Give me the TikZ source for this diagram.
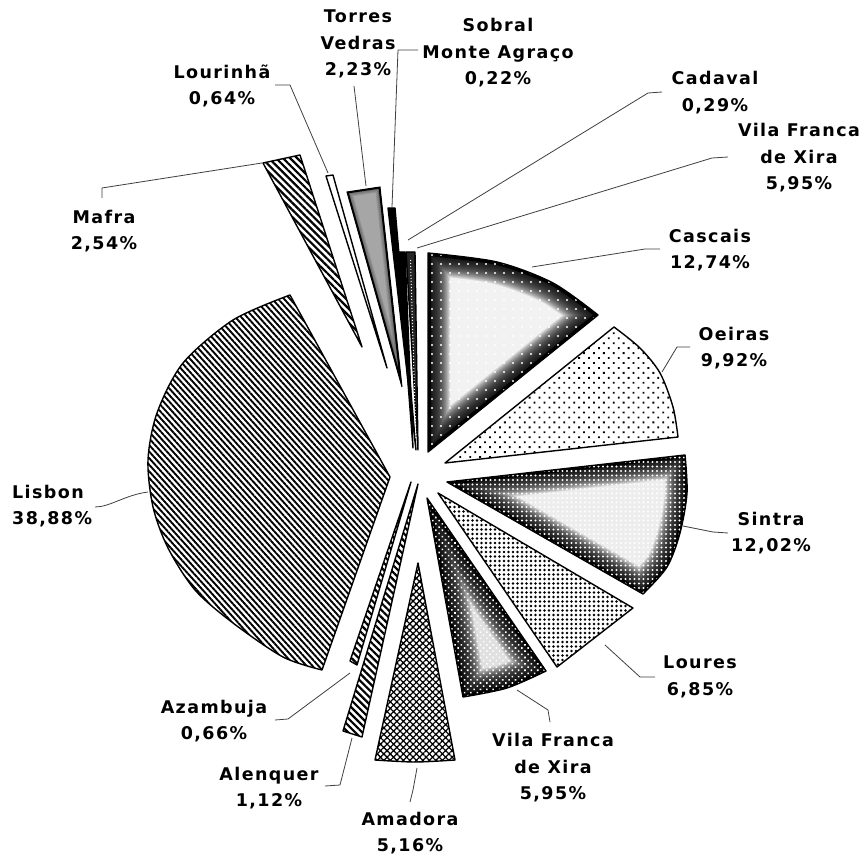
\documentclass[tikz,border=0pt]{standalone}
\usepackage{fontspec}
\newfontfamily\lblfont{DejaVu Sans Bold}[LetterSpace=8]
\usetikzlibrary{patterns.meta}
\newcommand\vignette[4]{%
  \begin{scope}
    \clip #1;
    \fill[#2] #1;
    \foreach \w in {#3} {\draw[line width=\w pt, black, opacity=0.1, line join=miter] #1;}
    \draw[line width=#4pt, black] #1;
  \end{scope}}
\begin{document}
\begin{tikzpicture}[x=1pt,y=-1pt,
  lbl/.style={font=\fontsize{17.5}{26.5}\selectfont\lblfont, align=center, inner sep=0pt},
  leader/.style={draw=black!75, line width=0.8pt},
  outl/.style={draw=black, line width=1.4pt, line join=round},
]
\useasboundingbox (0,0) rectangle (868,858);
\fill[white] (0,0) rectangle (868,858);

% ---- slice paths
\def\PCascais{(428,452) -- plot[smooth] coordinates {(428,253) (497,262) (553,283) (598,315)} -- cycle}
\def\POeiras{(445,463) -- plot[smooth] coordinates {(614,327) (640,348) (660,373) (673,407) (678,437)} -- cycle}
\def\PSintra{(447,482) -- plot[smooth] coordinates {(685,455) (687,493) (680,533) (667,567) (643,594)} -- cycle}
\def\PLoures{(438,493) -- (633,608) -- (557,667) -- cycle}
\def\PVfxB{(427,498) -- (546,671) -- plot[smooth] coordinates {(546,671) (507,688) (463,697)} -- cycle}
\def\PAmadora{(418,563) -- plot[smooth] coordinates {(455,760) (415,762) (375,760)} -- cycle}
\def\PAlenquer{(418,484) -- (362,737) -- (343,731) -- cycle}
\def\PAzambuja{(411,482) -- (357,665) -- (350,661) -- cycle}
\def\PLisbon{(390,477) -- plot[smooth] coordinates {(290,295) (233,320) (183,363) (157,413) (148,460) (153,507) (168,548) (195,590) (233,623) (283,657) (322,670)} -- cycle}
\def\PMafra{(362,347) -- (263,163) -- (300,155) -- cycle}
\def\PLourinha{(387,368) -- (326,176) -- (333,175) -- cycle}
\def\PTorres{(402,387) -- (347,192) -- (380,187) -- cycle}
\def\PSobral{(416,450) -- (388,208) -- (395,208) -- cycle}
\def\PCadaval{(413,448) -- (398,252) -- (405,252) -- cycle}
\def\PVfxT{(418,450) -- (406,252) -- (415,252) -- cycle}

% ---- slices
\vignette{\PCascais}{black!5}{8,10,...,44}{6}
\fill[pattern={Dots[distance=9pt,radius=1.1pt]}, pattern color=white] \PCascais;
\draw[outl] \PCascais;

\fill[white] \POeiras;
\fill[pattern={Dots[distance=7pt,angle=45,radius=1.3pt]}, pattern color=black] \POeiras;
\draw[outl] \POeiras;

\vignette{\PSintra}{black!7}{8,10,...,44}{6}
\fill[pattern={Dots[distance=4.5pt,radius=1.1pt]}, pattern color=white] \PSintra;
\draw[outl] \PSintra;

\fill[white] \PLoures;
\fill[pattern={Dots[distance=4.5pt,radius=1.45pt]}, pattern color=black] \PLoures;
\draw[outl] \PLoures;

\vignette{\PVfxB}{black!12}{8,10,...,48}{6}
\fill[pattern={Dots[distance=4.5pt,angle=45,radius=1.1pt]}, pattern color=white] \PVfxB;
\draw[outl] \PVfxB;

\fill[white] \PAmadora;
\fill[pattern={Hatch[angle=45,distance=4.6pt,line width=1.3pt]}, pattern color=black] \PAmadora;
\draw[outl] \PAmadora;

\fill[white] \PAlenquer;
\fill[pattern={Lines[angle=-45,distance=5pt,line width=2.2pt]}, pattern color=black] \PAlenquer;
\draw[outl] \PAlenquer;

\fill[white] \PAzambuja;
\fill[pattern={Lines[angle=-45,distance=5pt,line width=2.2pt]}, pattern color=black] \PAzambuja;
\draw[outl] \PAzambuja;

\fill[white] \PLisbon;
\fill[pattern={Lines[angle=-48,distance=4.4pt,line width=1.9pt]}, pattern color=black] \PLisbon;
\draw[outl] \PLisbon;

\fill[white] \PMafra;
\fill[pattern={Lines[angle=-45,distance=5pt,line width=2.2pt]}, pattern color=black] \PMafra;
\draw[outl] \PMafra;

\fill[white] \PLourinha;
\draw[outl] \PLourinha;

\vignette{\PTorres}{black!35}{4,6,8,10}{3}
\draw[draw=black, line width=1pt] \PTorres;

\fill[black] \PSobral;
\draw[outl] \PSobral;
\fill[black] \PCadaval;
\draw[outl] \PCadaval;
\fill[black!85] \PVfxT;
\draw[outl] \PVfxT;
\draw[white, line width=1pt, dotted] (410.5,260) -- (416,440);

% ---- labels
\node[lbl] (tv) at (358,44) {Torres\\Vedras\\2,23\%};
\node[lbl] (sm) at (498,53) {Sobral\\Monte Agraço\\0,22\%};
\node[lbl] (lo) at (222,86) {Lourinhã\\0,64\%};
\node[lbl] (ma) at (104,231) {Mafra\\2,54\%};
\node[lbl] (cd) at (715,92.5) {Cadaval\\0,29\%};
\node[lbl] (vt) at (799,158) {Vila Franca\\de Xira\\5,95\%};
\node[lbl] (cs) at (710,250) {Cascais\\12,74\%};
\node[lbl] (oe) at (734,348) {Oeiras\\9,92\%};
\node[lbl] (si) at (771,533) {Sintra\\12,02\%};
\node[lbl] (lu) at (700,677) {Loures\\6,85\%};
\node[lbl] (vb) at (553,768) {Vila Franca\\de Xira\\5,95\%};
\node[lbl] (am) at (410,833) {Amadora\\5,16\%};
\node[lbl] (al) at (269,788) {Alenquer\\1,12\%};
\node[lbl] (az) at (214,721) {Azambuja\\0,66\%};
\node[lbl, align=left, anchor=west] (li) at (12,506) {Lisbon\\38,88\%};

% ---- leader coordinates
\coordinate (tvA) at (354,86);  \coordinate (tvB) at (366,186);
\coordinate (smA) at (418,50);  \coordinate (smB) at (398,50);  \coordinate (smC) at (392,207);
\coordinate (loA) at (275,85);  \coordinate (loB) at (290,85);  \coordinate (loC) at (328,173);
\coordinate (maA) at (102,198); \coordinate (maB) at (102,188); \coordinate (maC) at (262,163);
\coordinate (cdA) at (662,92);  \coordinate (cdB) at (648,93);  \coordinate (cdC) at (408,240);
\coordinate (vtA) at (728,157); \coordinate (vtB) at (712,158); \coordinate (vtC) at (417,248);
\coordinate (csA) at (660,249); \coordinate (csB) at (645,249); \coordinate (csC) at (532,267);
\coordinate (oeA) at (690,347); \coordinate (oeB) at (677,347); \coordinate (oeC) at (662,372);
\coordinate (siA) at (728,533); \coordinate (siB) at (713,532); \coordinate (siC) at (683,526);
\coordinate (luA) at (655,677); \coordinate (luB) at (640,677); \coordinate (luC) at (605,645);
\coordinate (vbA) at (517,690); \coordinate (vbB) at (548,710); \coordinate (vbC) at (550,722);
\coordinate (amA) at (417,768); \coordinate (amB) at (413,790); \coordinate (amC) at (410,802);
\coordinate (alA) at (352,738); \coordinate (alB) at (340,785); \coordinate (alC) at (325,786);
\coordinate (azA) at (350,673); \coordinate (azB) at (288,719); \coordinate (azC) at (275,720);
\coordinate (liA) at (148,492); \coordinate (liB) at (95,507);

\draw[leader] (tvA) -- (tvB);
\draw[leader] (smA) -- (smB) -- (smC);
\draw[leader] (loA) -- (loB) -- (loC);
\draw[leader] (maA) -- (maB) -- (maC);
\draw[leader] (cdA) -- (cdB) -- (cdC);
\draw[leader] (vtA) -- (vtB) -- (vtC);
\draw[leader] (csA) -- (csB) -- (csC);
\draw[leader] (oeA) -- (oeB) -- (oeC);
\draw[leader] (siA) -- (siB) -- (siC);
\draw[leader] (luA) -- (luB) -- (luC);
\draw[leader] (vbA) -- (vbB) -- (vbC);
\draw[leader] (amA) -- (amB) -- (amC);
\draw[leader] (alA) -- (alB) -- (alC);
\draw[leader] (azA) -- (azB) -- (azC);
\draw[leader] (liA) .. controls (125,495) and (110,507) .. (liB);
\end{tikzpicture}
\end{document}
